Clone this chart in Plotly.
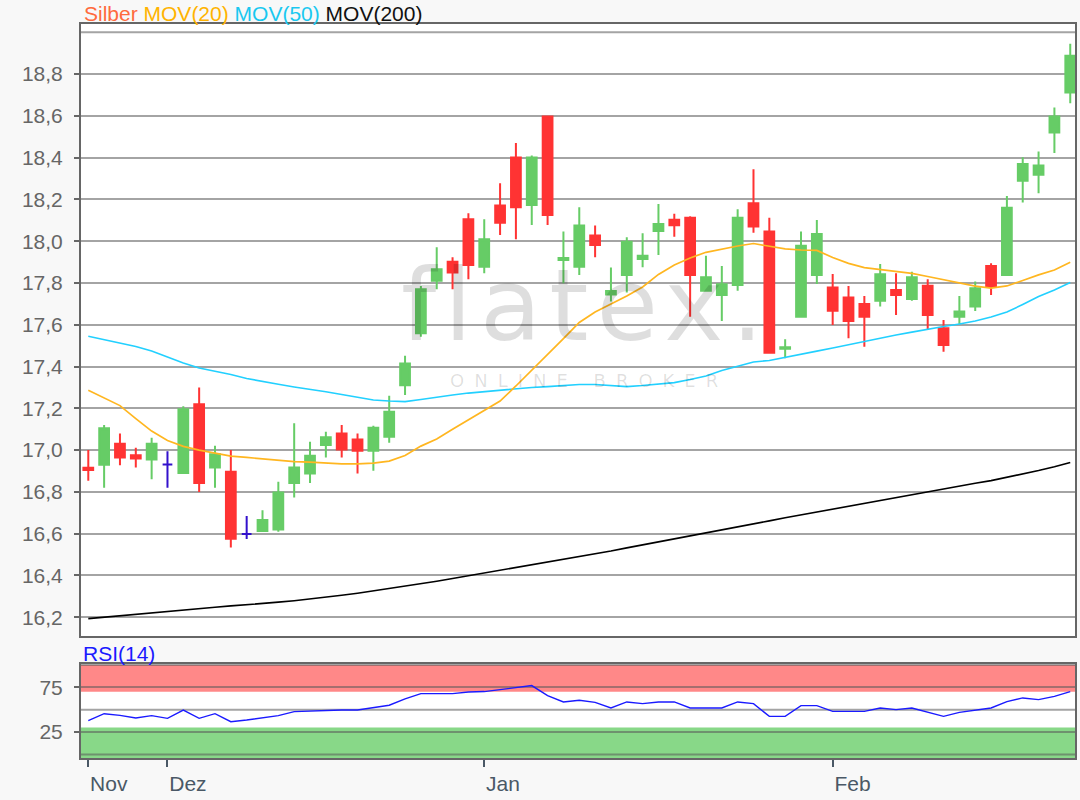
import plotly.graph_objects as go

# ---------------- data ----------------
dates = [
    "2019-11-25", "2019-11-26", "2019-11-27", "2019-11-28", "2019-11-29",
    "2019-12-02", "2019-12-03", "2019-12-04", "2019-12-05", "2019-12-06",
    "2019-12-09", "2019-12-10", "2019-12-11", "2019-12-12", "2019-12-13",
    "2019-12-16", "2019-12-17", "2019-12-18", "2019-12-19", "2019-12-20",
    "2019-12-23", "2019-12-24", "2019-12-27", "2019-12-30", "2019-12-31",
    "2020-01-02", "2020-01-03", "2020-01-06", "2020-01-07", "2020-01-08",
    "2020-01-09", "2020-01-10", "2020-01-13", "2020-01-14", "2020-01-15",
    "2020-01-16", "2020-01-17", "2020-01-20", "2020-01-21", "2020-01-22",
    "2020-01-23", "2020-01-24", "2020-01-27", "2020-01-28", "2020-01-29",
    "2020-01-30", "2020-01-31", "2020-02-03", "2020-02-04", "2020-02-05",
    "2020-02-06", "2020-02-07", "2020-02-10", "2020-02-11", "2020-02-12",
    "2020-02-13", "2020-02-14", "2020-02-17", "2020-02-18", "2020-02-19",
    "2020-02-20", "2020-02-21", "2020-02-24",
]

open_ = [16.915, 16.93, 17.03, 16.975, 16.955, 16.931, 16.89, 17.22, 16.917, 16.896,
         16.598, 16.613, 16.62, 16.843, 16.888, 17.024, 17.08, 17.051, 16.997, 17.064,
         17.311, 17.559, 17.811, 17.902, 18.105, 17.878, 18.171, 18.401, 18.174, 18.597,
         17.91, 17.878, 18.027, 17.745, 17.838, 17.915, 18.049, 18.103, 18.112, 17.763,
         17.743, 17.791, 18.182, 18.046, 17.485, 17.639, 17.838, 17.778, 17.73, 17.70,
         17.715, 17.767, 17.724, 17.787, 17.583, 17.639, 17.687, 17.882, 17.838, 18.289,
         18.318, 18.52, 18.712]
high = [17.00, 17.12, 17.08, 17.011, 17.059, 16.995, 17.21, 17.30, 17.021, 17.00,
        16.685, 16.712, 16.848, 17.128, 17.04, 17.088, 17.12, 17.08, 17.116, 17.26,
        17.452, 17.786, 17.971, 17.923, 18.134, 18.105, 18.278, 18.47, 18.41, 18.597,
        18.046, 18.163, 18.075, 17.874, 18.019, 18.038, 18.178, 18.131, 18.12, 17.93,
        17.882, 18.153, 18.345, 18.113, 17.531, 18.046, 18.102, 17.843, 17.786, 17.738,
        17.891, 17.847, 17.854, 17.818, 17.623, 17.738, 17.807, 17.894, 18.217, 18.402,
        18.429, 18.64, 18.945]
low = [16.853, 16.82, 16.928, 16.917, 16.86, 16.82, 16.89, 16.80, 16.82, 16.534,
       16.574, 16.613, 16.609, 16.773, 16.843, 16.965, 16.965, 16.888, 16.901, 17.035,
       17.264, 17.543, 17.77, 17.77, 17.818, 17.847, 18.03, 18.01, 18.078, 18.078,
       17.799, 17.838, 17.923, 17.711, 17.754, 17.875, 17.934, 18.022, 17.639, 17.763,
       17.618, 17.763, 18.041, 17.466, 17.44, 17.639, 17.795, 17.599, 17.535, 17.495,
       17.687, 17.647, 17.715, 17.575, 17.471, 17.604, 17.666, 17.743, 17.838, 18.185,
       18.23, 18.422, 18.661]
close = [16.905, 17.105, 16.965, 16.96, 17.03, 16.931, 17.195, 16.843, 16.98, 16.575,
         16.598, 16.665, 16.797, 16.917, 16.973, 17.061, 17.003, 16.997, 17.107, 17.184,
         17.415, 17.77, 17.866, 17.85, 17.886, 18.01, 18.089, 18.163, 18.401, 18.126,
         17.92, 18.075, 17.982, 17.762, 17.998, 17.931, 18.083, 18.076, 17.838, 17.827,
         17.794, 18.113, 18.07, 17.466, 17.492, 17.978, 18.035, 17.667, 17.618, 17.639,
         17.842, 17.743, 17.827, 17.647, 17.503, 17.663, 17.775, 17.782, 18.16, 18.37,
         18.362, 18.597, 18.888]

mov20 = [17.287, 17.252, 17.213, 17.151, 17.091, 17.046, 17.018, 17.0, 16.984, 16.971,
         16.965, 16.958, 16.952, 16.945, 16.942, 16.938, 16.934, 16.934, 16.938, 16.947,
         16.974, 17.019, 17.053, 17.10, 17.144, 17.187, 17.235, 17.307, 17.381, 17.455,
         17.534, 17.611, 17.661, 17.70, 17.738, 17.781, 17.841, 17.886, 17.92, 17.947,
         17.963, 17.977, 17.989, 17.977, 17.963, 17.958, 17.956, 17.922, 17.894, 17.874,
         17.865, 17.856, 17.846, 17.831, 17.816, 17.799, 17.785, 17.776, 17.786, 17.812,
         17.839, 17.862, 17.899]
mov50 = [17.545, 17.529, 17.513, 17.496, 17.474, 17.446, 17.417, 17.393, 17.379, 17.362,
         17.343, 17.328, 17.315, 17.302, 17.292, 17.279, 17.266, 17.252, 17.24, 17.235,
         17.232, 17.242, 17.254, 17.264, 17.273, 17.28, 17.287, 17.295, 17.30, 17.304,
         17.309, 17.314, 17.314, 17.309, 17.304, 17.309, 17.316, 17.323, 17.338, 17.355,
         17.381, 17.402, 17.422, 17.429, 17.443, 17.459, 17.474, 17.489, 17.505, 17.52,
         17.535, 17.551, 17.565, 17.58, 17.592, 17.604, 17.618, 17.637, 17.661, 17.697,
         17.735, 17.767, 17.802]
mov200 = [16.193, 16.20, 16.208, 16.215, 16.223, 16.23, 16.236, 16.243, 16.248, 16.254,
          16.259, 16.265, 16.272, 16.279, 16.287, 16.296, 16.305, 16.315, 16.326, 16.336,
          16.347, 16.36, 16.372, 16.385, 16.398, 16.411, 16.424, 16.436, 16.449, 16.462,
          16.476, 16.489, 16.503, 16.517, 16.532, 16.546, 16.561, 16.575, 16.589, 16.604,
          16.619, 16.633, 16.647, 16.661, 16.676, 16.69, 16.704, 16.717, 16.731, 16.745,
          16.758, 16.772, 16.786, 16.80, 16.814, 16.827, 16.841, 16.854, 16.869, 16.885,
          16.902, 16.92, 16.941]
rsi14 = [37.7, 45.5, 43.6, 40.7, 43.3, 40.3, 49.6, 40.3, 45.5, 36.5,
         38.4, 40.7, 43.3, 47.8, 48.5, 49.6, 49.6, 49.6, 51.9, 54.9,
         62.0, 67.9, 67.9, 67.9, 69.8, 70.2, 72.4, 74.3, 76.9, 65.7,
         58.6, 60.5, 58.2, 51.9, 58.6, 56.7, 58.6, 58.6, 51.9, 51.9,
         51.9, 58.6, 56.7, 42.5, 42.5, 54.5, 54.5, 48.1, 48.1, 48.1,
         51.9, 50.0, 51.9, 47.4, 42.5, 47.0, 49.3, 51.9, 59.0, 63.1,
         61.2, 64.9, 70.2]

price_ticks = [16.2, 16.4, 16.6, 16.8, 17.0, 17.2, 17.4, 17.6, 17.8, 18.0, 18.2, 18.4, 18.6, 18.8]
month_tick_idx = [0, 5, 25, 47]
month_labels = ["Nov", "Dez", "Jan", "Feb"]
rsi_ticks = [25, 75]

# ---------------- styling ----------------
GREEN = "#66cc66"
RED = "#ff3333"
BLUE = "#3311cc"
GRID = "rgba(90,90,90,0.55)"
FRAME = "#666666"
FONT = "Liberation Sans, Arial, sans-serif"
TXT = 21

W, H = 1080, 800
FRAME_L, FRAME_R, FRAME_T, FRAME_B = 81, 1077, 24, 758   # page pixels
ML, MR, MT, MB = FRAME_L, W - FRAME_R, FRAME_T, H - FRAME_B
plot_h = H - MT - MB
plot_w = W - ML - MR
main_bottom_px = 636
rsi_top_px = 664


def py(pix):
    return (FRAME_B - pix) / plot_h


def px(pix):
    return (pix - FRAME_L) / plot_w


idx_flat = [i for i in range(len(dates)) if open_[i] == close[i]]
idx_move = [i for i in range(len(dates)) if open_[i] != close[i]]

fig = go.Figure()

fig.add_trace(go.Candlestick(
    x=[dates[i] for i in idx_move],
    open=[open_[i] for i in idx_move], high=[high[i] for i in idx_move],
    low=[low[i] for i in idx_move], close=[close[i] for i in idx_move],
    increasing=dict(line=dict(color=GREEN, width=2), fillcolor=GREEN),
    decreasing=dict(line=dict(color=RED, width=2), fillcolor=RED),
    whiskerwidth=0, name="Silber", xaxis="x", yaxis="y",
))
fig.add_trace(go.Candlestick(
    x=[dates[i] for i in idx_flat],
    open=[open_[i] for i in idx_flat], high=[high[i] for i in idx_flat],
    low=[low[i] for i in idx_flat], close=[close[i] for i in idx_flat],
    increasing=dict(line=dict(color=BLUE, width=2), fillcolor=BLUE),
    decreasing=dict(line=dict(color=BLUE, width=2), fillcolor=BLUE),
    whiskerwidth=0, name="Silber", xaxis="x", yaxis="y",
))

fig.add_trace(go.Scatter(x=dates, y=mov200, mode="lines", line=dict(color="#000000", width=1.6),
                         name="MOV(200)", xaxis="x", yaxis="y"))
fig.add_trace(go.Scatter(x=dates, y=mov50, mode="lines", line=dict(color="#22d0ff", width=1.6),
                         name="MOV(50)", xaxis="x", yaxis="y"))
fig.add_trace(go.Scatter(x=dates, y=mov20, mode="lines", line=dict(color="#ffb620", width=1.7),
                         name="MOV(20)", xaxis="x", yaxis="y"))

fig.add_trace(go.Scatter(x=dates, y=rsi14, mode="lines", line=dict(color="#1a1aff", width=1.4),
                         name="RSI(14)", xaxis="x2", yaxis="y2"))

main_dom = [py(main_bottom_px), 1]
rsi_dom = [0, py(rsi_top_px)]
xrange_ = [-0.46, len(dates) - 0.7]

fig.update_layout(
    width=W, height=H,
    margin=dict(l=ML, r=MR, t=MT, b=MB, pad=0),
    paper_bgcolor="#f8f8f8", plot_bgcolor="#ffffff",
    separators=",.",
    showlegend=False,
    boxgap=0.12, boxgroupgap=0.3,
    font=dict(family=FONT, color="#666666", size=TXT),
    xaxis=dict(domain=[0, 1], anchor="y", type="category", categoryorder="array",
               categoryarray=dates, range=xrange_, showticklabels=False, ticks="",
               showgrid=False, zeroline=False, showline=True, mirror=True,
               linecolor=FRAME, linewidth=2, rangeslider=dict(visible=False)),
    yaxis=dict(domain=main_dom, anchor="x", range=[16.11, 19.04],
               tickvals=price_ticks, tickformat=".1f", ticks="outside", ticklen=5,
               tickcolor=FRAME, tickwidth=1.5, showgrid=True, gridcolor=GRID, gridwidth=2,
               zeroline=False, showline=True, mirror=True, linecolor=FRAME, linewidth=2,
               tickfont=dict(size=TXT, color="#666666"), ticklabelstandoff=7),
    xaxis2=dict(domain=[0, 1], anchor="y2", type="category", categoryorder="array",
                categoryarray=dates, range=xrange_, matches="x",
                tickvals=[dates[i] for i in month_tick_idx], ticktext=month_labels,
                ticks="outside", ticklen=7, tickcolor="#4a5866", tickwidth=1.5,
                ticklabelposition="outside right", ticklabelstandoff=6,
                tickfont=dict(size=TXT, color="#4a5866"),
                showgrid=False, zeroline=False, showline=True, mirror=True,
                linecolor=FRAME, linewidth=2, rangeslider=dict(visible=False)),
    yaxis2=dict(domain=rsi_dom, anchor="x2", range=[-4, 101], tickvals=rsi_ticks,
                ticks="outside", ticklen=5, tickcolor=FRAME, tickwidth=1.5,
                showgrid=True, gridcolor=GRID, gridwidth=2, zeroline=False,
                showline=True, mirror=True, linecolor=FRAME, linewidth=2,
                tickfont=dict(size=TXT, color="#666666"), ticklabelstandoff=7),
)

shapes = [
    dict(type="rect", xref="paper", x0=0, x1=1, yref="y2", y0=70, y1=100,
         fillcolor="rgb(255,136,136)", line=dict(width=0), layer="below"),
    dict(type="rect", xref="paper", x0=0, x1=1, yref="y2", y0=-4, y1=30,
         fillcolor="rgb(136,216,136)", line=dict(width=0), layer="below"),
]
for lvl in [0, 50, 100]:
    shapes.append(dict(type="line", xref="paper", x0=0, x1=1, yref="y2", y0=lvl, y1=lvl,
                       line=dict(color=GRID, width=2), layer="below"))
shapes.append(dict(type="line", xref="paper", x0=0, x1=1, yref="y", y0=19.0, y1=19.0,
                   line=dict(color=GRID, width=2), layer="below"))
fig.update_layout(shapes=shapes)

WM = "rgba(0,0,0,0.13)"
annotations = [
    dict(text='<span style="color:#ff6a3d">Silber</span> '
              '<span style="color:#ffb300">MOV(20)</span> '
              '<span style="color:#1ac8f0">MOV(50)</span> '
              '<span style="color:#111111">MOV(200)</span>',
         xref="paper", yref="paper", x=px(82), y=py(13), xanchor="left", yanchor="middle",
         showarrow=False, font=dict(size=TXT, family=FONT)),
    dict(text="RSI(14)", xref="paper", yref="paper", x=px(81), y=py(653),
         xanchor="left", yanchor="middle", showarrow=False,
         font=dict(size=TXT, family=FONT, color="#1a1aff")),
    # watermark
    dict(text='<span style="letter-spacing:8px">flatex.</span>', xref="paper", yref="paper",
         x=px(587), y=py(366), xanchor="center", yanchor="bottom", showarrow=False,
         font=dict(size=100, family="DejaVu Sans, sans-serif", color=WM)),
    dict(text='<span style="letter-spacing:10px">ONLINE BROKER</span>', xref="paper", yref="paper",
         x=px(590), y=py(368), xanchor="center", yanchor="top", showarrow=False,
         font=dict(size=18, family="DejaVu Sans, sans-serif", color=WM)),
]
fig.update_layout(annotations=annotations)

fig.write_html("out.html",
               config={"displayModeBar": False},
               post_script="document.body.style.margin='0px';"
                           "document.body.style.overflow='hidden';")
